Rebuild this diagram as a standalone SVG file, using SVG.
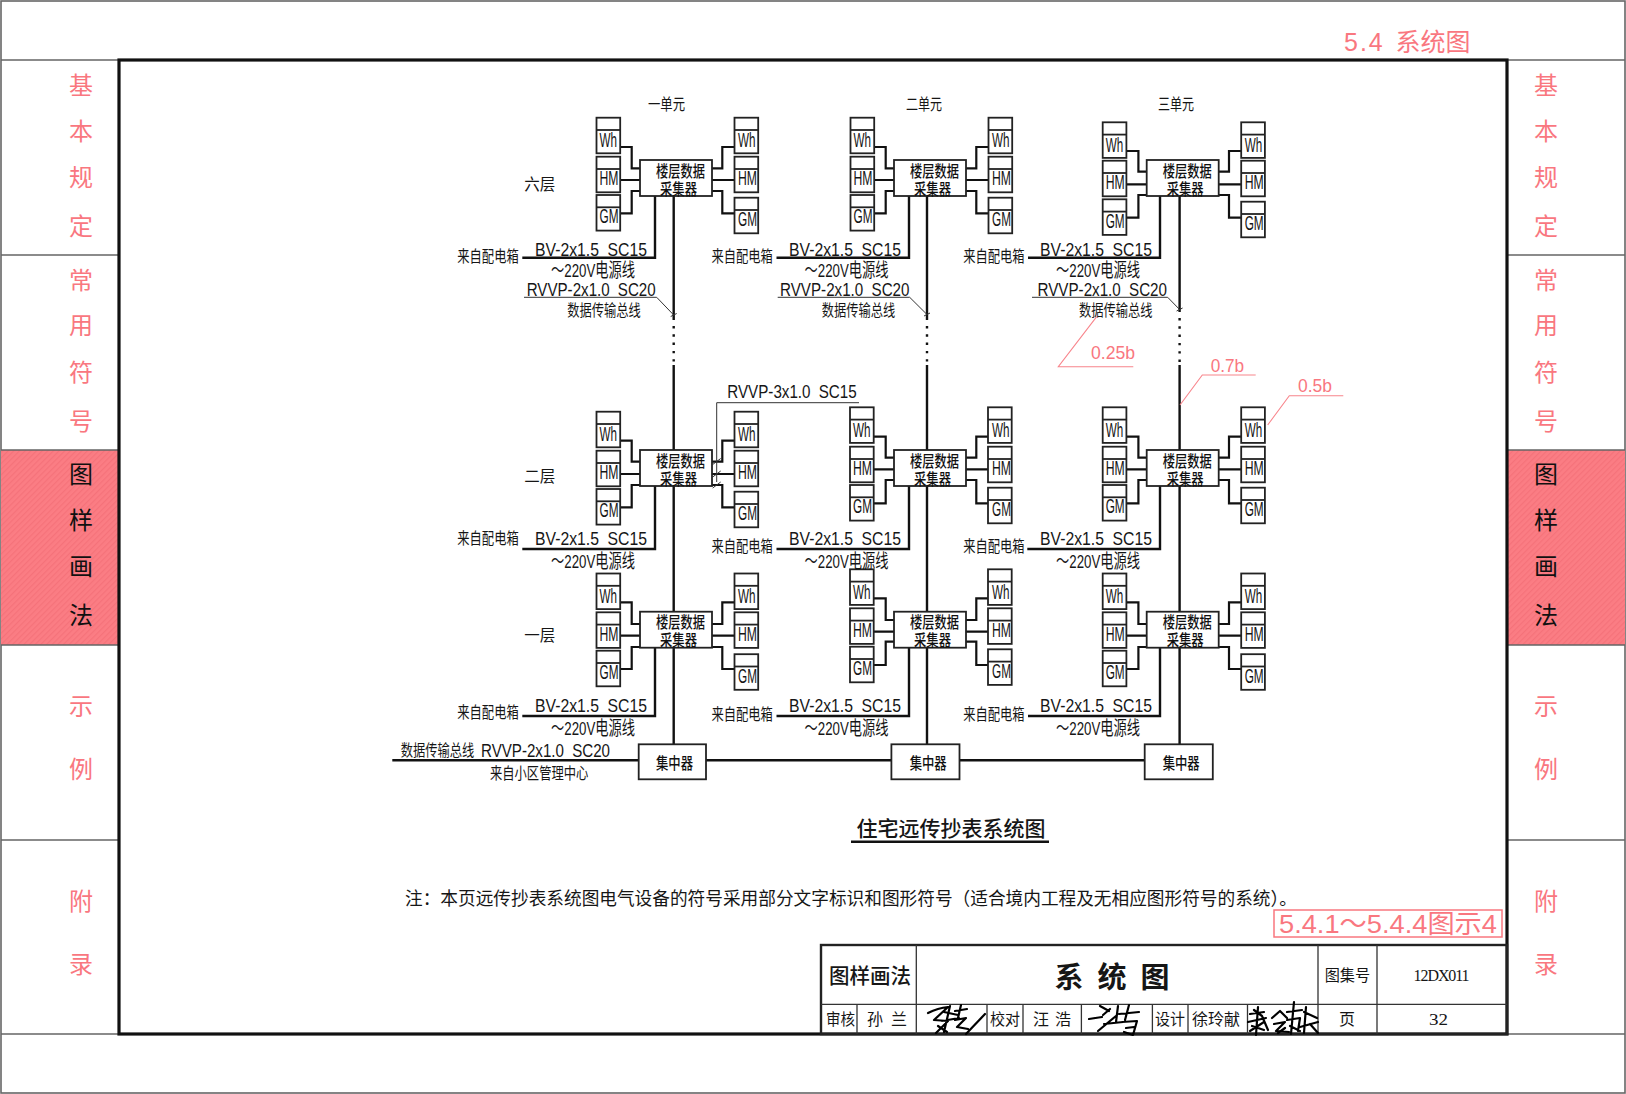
<svg xmlns="http://www.w3.org/2000/svg" width="1626" height="1094" viewBox="0 0 1626 1094">
<style>
.c{font-family:"Noto Sans CJK SC",sans-serif;fill:#161616}
.l{font-family:"Liberation Sans","Noto Sans CJK SC",sans-serif;fill:#161616}
.s16{font-size:16px}.s18{font-size:19px;word-spacing:5px}
.bt{font-family:"Noto Sans CJK SC",sans-serif;fill:#111;font-size:16px;font-weight:500}
.ml{font-family:"Liberation Sans",sans-serif;fill:#161616;font-size:20px;transform:translateY(-1px)}
.side{font-family:"Noto Sans CJK SC",sans-serif;font-size:24px;text-anchor:middle;fill:#f9777f}
.sideb{font-family:"Noto Sans CJK SC",sans-serif;font-size:24px;text-anchor:middle;fill:#111}
.w{fill:none;stroke:#111;stroke-width:2.2}
.v{fill:none;stroke:#111;stroke-width:2.4}
.t{fill:none;stroke:#333;stroke-width:1}
.pl{fill:none;stroke:#f8858c;stroke-width:1.1}
.g{fill:none;stroke:#666;stroke-width:1.6}
.bx{fill:#fff;stroke:#222;stroke-width:1.8}
.tb{fill:none;stroke:#333;stroke-width:1.3}
.sig{fill:none;stroke:#000;stroke-width:2.2;stroke-linejoin:round;stroke-linecap:round}
</style>
<defs>
<g id="mb"><rect class="bx" width="23.7" height="35.6"/><line x1="0" y1="12.3" x2="23.7" y2="12.3" stroke="#222" stroke-width="1.8"/></g>
<pattern id="hatch" width="4" height="4" patternUnits="userSpaceOnUse" patternTransform="rotate(-45)"><rect width="4" height="4" fill="#fb7d84"/><rect width="4" height="1.2" fill="#f5727a"/></pattern>
</defs>
<rect width="1626" height="1094" fill="#fff"/>

<g id="frame">
<rect x="1" y="1" width="1624" height="1092" class="g" stroke-width="2"/>
<rect x="1" y="450" width="118" height="195" fill="url(#hatch)"/>
<rect x="1507" y="450" width="118" height="195" fill="url(#hatch)"/>
<path class="g" d="M1 60H119M1 255H119M1 450H119M1 645H119M1 840H119M1 1034H1625M1507 60H1625M1507 255H1625M1507 450H1625M1507 645H1625M1507 840H1625"/>
<rect x="119" y="60" width="1388" height="974" fill="none" stroke="#111" stroke-width="3.2"/>
</g>

<g id="side-left">
<text class="side" x="81" y="94">基</text><text class="side" x="81" y="140">本</text><text class="side" x="81" y="186">规</text><text class="side" x="81" y="235">定</text>
<text class="side" x="81" y="289">常</text><text class="side" x="81" y="334">用</text><text class="side" x="81" y="381">符</text><text class="side" x="81" y="430">号</text>
<text class="sideb" x="81" y="483">图</text><text class="sideb" x="81" y="529">样</text><text class="sideb" x="81" y="575">画</text><text class="sideb" x="81" y="624">法</text>
<text class="side" x="81" y="715">示</text><text class="side" x="81" y="778">例</text>
<text class="side" x="81" y="910">附</text><text class="side" x="81" y="973">录</text>
</g>
<g id="side-right">
<text class="side" x="1546" y="94">基</text><text class="side" x="1546" y="140">本</text><text class="side" x="1546" y="186">规</text><text class="side" x="1546" y="235">定</text>
<text class="side" x="1546" y="289">常</text><text class="side" x="1546" y="334">用</text><text class="side" x="1546" y="381">符</text><text class="side" x="1546" y="430">号</text>
<text class="sideb" x="1546" y="483">图</text><text class="sideb" x="1546" y="529">样</text><text class="sideb" x="1546" y="575">画</text><text class="sideb" x="1546" y="624">法</text>
<text class="side" x="1546" y="715">示</text><text class="side" x="1546" y="778">例</text>
<text class="side" x="1546" y="910">附</text><text class="side" x="1546" y="973">录</text>
</g>
<text class="l" y="51" font-size="25" style="fill:#f9777f"><tspan x="1344" letter-spacing="2">5.4</tspan> <tspan x="1395.5">系统图</tspan></text>

<g id="connectors">
<g id="c-u1">
<path class="w" d="M620 147H631.7V168.3H640M620 180H640M620 213.3H631.7V191H640M712 168.3H722.3V147H734.5M712 180H734.5M712 191H722.3V213.3H734.5"/>
<path class="w" d="M620 440.7H631.7V461.7H640M620 474H640M620 507.3H631.7V485H640M712 461.7H722.3V440.7H734.5M712 474H734.5M712 485H722.3V507.3H734.5"/>
<path class="w" d="M620 602.3H631.7V624H640M620 635.7H640M620 669H631.7V647H640M712 624H722.3V602.3H734.5M712 635.7H734.5M712 647H722.3V669H734.5"/>
<path class="v" d="M655 196V257.7H522.3M655 486V549H522.3M655 647.7V716H522.3"/>
<path class="v" d="M673.7 196V320M673.7 365V450M673.7 486V611.7M673.7 647.7V744.3"/>
<path class="v" stroke-dasharray="2.4 5.9" d="M673.7 326V362"/>
<path class="t" d="M524 297.3H656.7L673.7 315M670.7 316.5l6-3"/>
</g>
<g id="c-u2">
<path class="w" d="M874 147H885.7V168.3H894M874 180H894M874 213.3H885.7V191H894M966 168.3H976.3V147H988.5M966 180H988.5M966 191H976.3V213.3H988.5"/>
<path class="w" d="M874 436.7H885.7V457.7H894M874 469.3H894M874 503.3H885.7V480H894M966 457.7H976.3V436.7H988.5M966 469.3H988.5M966 480H976.3V503.3H988.5"/>
<path class="w" d="M874 598.3H885.7V620H894M874 631.7H894M874 665H885.7V641.7H894M966 620H976.3V598.3H988.5M966 631.7H988.5M966 641.7H976.3V665H988.5"/>
<path class="v" d="M909 196V257.7H776.5M909 486V549H776.5M909 647.7V716H776.5"/>
<path class="v" d="M927 196V320M927 365V450M927 486V611.7M927 647.7V744"/>
<path class="v" stroke-dasharray="2.4 5.9" d="M927 326V362"/>
<path class="t" d="M777.7 297.3H909.7L927 314.5M924 316l6-3"/>
</g>
<g id="c-u3">
<path class="w" d="M1126.7 151H1138.4V171.7H1146.7M1126.7 184.3H1146.7M1126.7 217.7H1138.4V195H1146.7M1218.7 171.7H1229V151H1241.2M1218.7 184.3H1241.2M1218.7 195H1229V217.7H1241.2"/>
<path class="w" d="M1126.7 436.7H1138.4V457.7H1146.7M1126.7 469.3H1146.7M1126.7 503.3H1138.4V480H1146.7M1218.7 457.7H1229V436.7H1241.2M1218.7 469.3H1241.2M1218.7 480H1229V503.3H1241.2"/>
<path class="w" d="M1126.7 602.3H1138.4V624H1146.7M1126.7 635.7H1146.7M1126.7 669H1138.4V647H1146.7M1218.7 624H1229V602.3H1241.2M1218.7 635.7H1241.2M1218.7 647H1229V669H1241.2"/>
<path class="v" d="M1160 196V257.7H1028M1160 486V549H1027.3M1160 647.7V716H1028"/>
<path class="v" d="M1179.6 196V312M1179.6 365V450M1179.6 486V611.7M1179.6 647.7V744"/>
<path class="v" stroke-dasharray="2.4 5.9" d="M1179.6 318V362"/>
<path class="t" d="M1032 297.3H1167.7L1179.6 309.5M1176.6 311l6-3"/>
</g>
<g id="c-bus">
<path class="v" stroke-width="2.2" d="M392.3 760.3H638.7M706 760.3H891.4M959.5 760.3H1144.7"/>
</g>
<g id="c-leader">
<path class="t" stroke="#555" d="M859 402.7H716.7V482"/>
<path class="t" stroke-width="1.2" d="M712.7 464.5l8-6M712.7 477l8-6M712.7 488l8-6"/>
</g>
</g>

<g id="u1f6">
<use href="#mb" x="596.5" y="117.7"/><text class="ml" x="599.5" y="148" textLength="17.5" lengthAdjust="spacingAndGlyphs">Wh</text>
<use href="#mb" x="596.5" y="156.7"/><text class="ml" x="599.5" y="186" textLength="19" lengthAdjust="spacingAndGlyphs">HM</text>
<use href="#mb" x="596.5" y="195"/><text class="ml" x="599.5" y="224" textLength="19" lengthAdjust="spacingAndGlyphs">GM</text>
<use href="#mb" x="734.5" y="117.7"/><text class="ml" x="738" y="148" textLength="17.5" lengthAdjust="spacingAndGlyphs">Wh</text>
<use href="#mb" x="734.5" y="156.7"/><text class="ml" x="738" y="186" textLength="19" lengthAdjust="spacingAndGlyphs">HM</text>
<use href="#mb" x="734.5" y="197.7"/><text class="ml" x="738" y="227" textLength="19" lengthAdjust="spacingAndGlyphs">GM</text>
<rect class="bx" x="640" y="160" width="72" height="36"/><text class="bt" x="656" y="177" textLength="49" lengthAdjust="spacingAndGlyphs">楼层数据</text><text class="bt" x="660" y="194.5" textLength="37" lengthAdjust="spacingAndGlyphs">采集器</text>
</g>
<g id="u2f6" transform="translate(254 0)">
<use href="#mb" x="596.5" y="117.7"/><text class="ml" x="599.5" y="148" textLength="17.5" lengthAdjust="spacingAndGlyphs">Wh</text>
<use href="#mb" x="596.5" y="156.7"/><text class="ml" x="599.5" y="186" textLength="19" lengthAdjust="spacingAndGlyphs">HM</text>
<use href="#mb" x="596.5" y="195"/><text class="ml" x="599.5" y="224" textLength="19" lengthAdjust="spacingAndGlyphs">GM</text>
<use href="#mb" x="734.5" y="117.7"/><text class="ml" x="738" y="148" textLength="17.5" lengthAdjust="spacingAndGlyphs">Wh</text>
<use href="#mb" x="734.5" y="156.7"/><text class="ml" x="738" y="186" textLength="19" lengthAdjust="spacingAndGlyphs">HM</text>
<use href="#mb" x="734.5" y="197.7"/><text class="ml" x="738" y="227" textLength="19" lengthAdjust="spacingAndGlyphs">GM</text>
<rect class="bx" x="640" y="160" width="72" height="36"/><text class="bt" x="656" y="177" textLength="49" lengthAdjust="spacingAndGlyphs">楼层数据</text><text class="bt" x="660" y="194.5" textLength="37" lengthAdjust="spacingAndGlyphs">采集器</text>
</g>
<g id="u3f6" transform="translate(506.7 0)">
<use href="#mb" x="596" y="122.3"/><text class="ml" x="599" y="152.5" textLength="17.5" lengthAdjust="spacingAndGlyphs">Wh</text>
<use href="#mb" x="596" y="160.7"/><text class="ml" x="599" y="190" textLength="19" lengthAdjust="spacingAndGlyphs">HM</text>
<use href="#mb" x="596" y="199.3"/><text class="ml" x="599" y="228.5" textLength="19" lengthAdjust="spacingAndGlyphs">GM</text>
<use href="#mb" x="734.5" y="122.3"/><text class="ml" x="738" y="152.5" textLength="17.5" lengthAdjust="spacingAndGlyphs">Wh</text>
<use href="#mb" x="734.5" y="160.7"/><text class="ml" x="738" y="190" textLength="19" lengthAdjust="spacingAndGlyphs">HM</text>
<use href="#mb" x="734.5" y="201.7"/><text class="ml" x="738" y="231" textLength="19" lengthAdjust="spacingAndGlyphs">GM</text>
<rect class="bx" x="640" y="160" width="72" height="36"/><text class="bt" x="656" y="177" textLength="49" lengthAdjust="spacingAndGlyphs">楼层数据</text><text class="bt" x="660" y="194.5" textLength="37" lengthAdjust="spacingAndGlyphs">采集器</text>
</g>

<g id="u1f2">
<use href="#mb" x="596.5" y="411.7"/><text class="ml" x="599.5" y="442" textLength="17.5" lengthAdjust="spacingAndGlyphs">Wh</text>
<use href="#mb" x="596.5" y="450.7"/><text class="ml" x="599.5" y="480" textLength="19" lengthAdjust="spacingAndGlyphs">HM</text>
<use href="#mb" x="596.5" y="489"/><text class="ml" x="599.5" y="518" textLength="19" lengthAdjust="spacingAndGlyphs">GM</text>
<use href="#mb" x="734.5" y="411.7"/><text class="ml" x="738" y="442" textLength="17.5" lengthAdjust="spacingAndGlyphs">Wh</text>
<use href="#mb" x="734.5" y="450.7"/><text class="ml" x="738" y="480" textLength="19" lengthAdjust="spacingAndGlyphs">HM</text>
<use href="#mb" x="734.5" y="491.7"/><text class="ml" x="738" y="521" textLength="19" lengthAdjust="spacingAndGlyphs">GM</text>
<rect class="bx" x="640" y="450" width="72" height="36"/><text class="bt" x="656" y="467" textLength="49" lengthAdjust="spacingAndGlyphs">楼层数据</text><text class="bt" x="660" y="484.5" textLength="37" lengthAdjust="spacingAndGlyphs">采集器</text>
</g>
<g id="u2f2" transform="translate(254 0)">
<use href="#mb" x="596" y="407.3"/><text class="ml" x="599" y="437.5" textLength="17.5" lengthAdjust="spacingAndGlyphs">Wh</text>
<use href="#mb" x="596" y="446.7"/><text class="ml" x="599" y="476" textLength="19" lengthAdjust="spacingAndGlyphs">HM</text>
<use href="#mb" x="596" y="485"/><text class="ml" x="599" y="514" textLength="19" lengthAdjust="spacingAndGlyphs">GM</text>
<use href="#mb" x="734" y="407.3"/><text class="ml" x="738" y="437.5" textLength="17.5" lengthAdjust="spacingAndGlyphs">Wh</text>
<use href="#mb" x="734" y="446.7"/><text class="ml" x="738" y="476" textLength="19" lengthAdjust="spacingAndGlyphs">HM</text>
<use href="#mb" x="734" y="487.7"/><text class="ml" x="738" y="517" textLength="19" lengthAdjust="spacingAndGlyphs">GM</text>
<rect class="bx" x="640" y="450" width="72" height="36"/><text class="bt" x="656" y="467" textLength="49" lengthAdjust="spacingAndGlyphs">楼层数据</text><text class="bt" x="660" y="484.5" textLength="37" lengthAdjust="spacingAndGlyphs">采集器</text>
</g>
<g id="u3f2" transform="translate(506.7 0)">
<use href="#mb" x="596" y="407.3"/><text class="ml" x="599" y="437.5" textLength="17.5" lengthAdjust="spacingAndGlyphs">Wh</text>
<use href="#mb" x="596" y="446.7"/><text class="ml" x="599" y="476" textLength="19" lengthAdjust="spacingAndGlyphs">HM</text>
<use href="#mb" x="596" y="485"/><text class="ml" x="599" y="514" textLength="19" lengthAdjust="spacingAndGlyphs">GM</text>
<use href="#mb" x="734.5" y="407.3"/><text class="ml" x="738" y="437.5" textLength="17.5" lengthAdjust="spacingAndGlyphs">Wh</text>
<use href="#mb" x="734.5" y="446.7"/><text class="ml" x="738" y="476" textLength="19" lengthAdjust="spacingAndGlyphs">HM</text>
<use href="#mb" x="734.5" y="487.7"/><text class="ml" x="738" y="517" textLength="19" lengthAdjust="spacingAndGlyphs">GM</text>
<rect class="bx" x="640" y="450" width="72" height="36"/><text class="bt" x="656" y="467" textLength="49" lengthAdjust="spacingAndGlyphs">楼层数据</text><text class="bt" x="660" y="484.5" textLength="37" lengthAdjust="spacingAndGlyphs">采集器</text>
</g>

<g id="u1f1">
<use href="#mb" x="596.5" y="573.5"/><text class="ml" x="599.5" y="604" textLength="17.5" lengthAdjust="spacingAndGlyphs">Wh</text>
<use href="#mb" x="596.5" y="612.3"/><text class="ml" x="599.5" y="642" textLength="19" lengthAdjust="spacingAndGlyphs">HM</text>
<use href="#mb" x="596.5" y="650.7"/><text class="ml" x="599.5" y="680" textLength="19" lengthAdjust="spacingAndGlyphs">GM</text>
<use href="#mb" x="734.5" y="573.5"/><text class="ml" x="738" y="604" textLength="17.5" lengthAdjust="spacingAndGlyphs">Wh</text>
<use href="#mb" x="734.5" y="612.3"/><text class="ml" x="738" y="642" textLength="19" lengthAdjust="spacingAndGlyphs">HM</text>
<use href="#mb" x="734.5" y="654.2"/><text class="ml" x="738" y="683.5" textLength="19" lengthAdjust="spacingAndGlyphs">GM</text>
<rect class="bx" x="640" y="611.7" width="72" height="36"/><text class="bt" x="656" y="628" textLength="49" lengthAdjust="spacingAndGlyphs">楼层数据</text><text class="bt" x="660" y="646" textLength="37" lengthAdjust="spacingAndGlyphs">采集器</text>
</g>
<g id="u2f1" transform="translate(254 0)">
<use href="#mb" x="596" y="569.3"/><text class="ml" x="599" y="599.5" textLength="17.5" lengthAdjust="spacingAndGlyphs">Wh</text>
<use href="#mb" x="596" y="608.3"/><text class="ml" x="599" y="638" textLength="19" lengthAdjust="spacingAndGlyphs">HM</text>
<use href="#mb" x="596" y="646.7"/><text class="ml" x="599" y="676" textLength="19" lengthAdjust="spacingAndGlyphs">GM</text>
<use href="#mb" x="734" y="569.3"/><text class="ml" x="738" y="599.5" textLength="17.5" lengthAdjust="spacingAndGlyphs">Wh</text>
<use href="#mb" x="734" y="608.3"/><text class="ml" x="738" y="638" textLength="19" lengthAdjust="spacingAndGlyphs">HM</text>
<use href="#mb" x="734" y="649.3"/><text class="ml" x="738" y="678.5" textLength="19" lengthAdjust="spacingAndGlyphs">GM</text>
<rect class="bx" x="640" y="611.7" width="72" height="36"/><text class="bt" x="656" y="628" textLength="49" lengthAdjust="spacingAndGlyphs">楼层数据</text><text class="bt" x="660" y="646" textLength="37" lengthAdjust="spacingAndGlyphs">采集器</text>
</g>
<g id="u3f1" transform="translate(506.7 0)">
<use href="#mb" x="596" y="573.5"/><text class="ml" x="599" y="604" textLength="17.5" lengthAdjust="spacingAndGlyphs">Wh</text>
<use href="#mb" x="596" y="612.3"/><text class="ml" x="599" y="642" textLength="19" lengthAdjust="spacingAndGlyphs">HM</text>
<use href="#mb" x="596" y="650.7"/><text class="ml" x="599" y="680" textLength="19" lengthAdjust="spacingAndGlyphs">GM</text>
<use href="#mb" x="734.5" y="573.5"/><text class="ml" x="738" y="604" textLength="17.5" lengthAdjust="spacingAndGlyphs">Wh</text>
<use href="#mb" x="734.5" y="612.3"/><text class="ml" x="738" y="642" textLength="19" lengthAdjust="spacingAndGlyphs">HM</text>
<use href="#mb" x="734.5" y="654.2"/><text class="ml" x="738" y="683.5" textLength="19" lengthAdjust="spacingAndGlyphs">GM</text>
<rect class="bx" x="640" y="611.7" width="72" height="36"/><text class="bt" x="656" y="628" textLength="49" lengthAdjust="spacingAndGlyphs">楼层数据</text><text class="bt" x="660" y="646" textLength="37" lengthAdjust="spacingAndGlyphs">采集器</text>
</g>

<g id="conc1"><rect class="bx" x="638.7" y="744.3" width="67.3" height="35"/><text class="bt" x="656" y="768.5" textLength="37" lengthAdjust="spacingAndGlyphs">集中器</text></g>
<g id="conc2"><rect class="bx" x="891.4" y="744.3" width="68.1" height="35"/><text class="bt" x="909.7" y="768.5" textLength="37" lengthAdjust="spacingAndGlyphs">集中器</text></g>
<g id="conc3"><rect class="bx" x="1144.7" y="744.3" width="68.1" height="35"/><text class="bt" x="1162.7" y="768.5" textLength="37" lengthAdjust="spacingAndGlyphs">集中器</text></g>

<g id="labels">
<text class="c s16" x="648" y="109.5" textLength="37" lengthAdjust="spacingAndGlyphs">一单元</text>
<text class="c s16" x="906" y="109.5" textLength="36" lengthAdjust="spacingAndGlyphs">二单元</text>
<text class="c s16" x="1158" y="109.5" textLength="36" lengthAdjust="spacingAndGlyphs">三单元</text>
<text class="c s16" x="524.3" y="190" textLength="31" lengthAdjust="spacingAndGlyphs">六层</text>
<text class="c s16" x="524.3" y="481.7" textLength="31" lengthAdjust="spacingAndGlyphs">二层</text>
<text class="c s16" x="524.3" y="641" textLength="31" lengthAdjust="spacingAndGlyphs">一层</text>

<text class="c s16" x="457.3" y="262" textLength="61.4" lengthAdjust="spacingAndGlyphs">来自配电箱</text>
<text class="c s16" x="711.5" y="262" textLength="61.4" lengthAdjust="spacingAndGlyphs">来自配电箱</text>
<text class="c s16" x="963.2" y="262" textLength="61.4" lengthAdjust="spacingAndGlyphs">来自配电箱</text>
<text class="c s16" x="457.3" y="544" textLength="61.4" lengthAdjust="spacingAndGlyphs">来自配电箱</text>
<text class="c s16" x="711.5" y="552" textLength="61.4" lengthAdjust="spacingAndGlyphs">来自配电箱</text>
<text class="c s16" x="963.2" y="552" textLength="61.4" lengthAdjust="spacingAndGlyphs">来自配电箱</text>
<text class="c s16" x="457.3" y="718" textLength="61.4" lengthAdjust="spacingAndGlyphs">来自配电箱</text>
<text class="c s16" x="711.5" y="719.5" textLength="61.4" lengthAdjust="spacingAndGlyphs">来自配电箱</text>
<text class="c s16" x="963.2" y="719.5" textLength="61.4" lengthAdjust="spacingAndGlyphs">来自配电箱</text>

<text class="l s18" x="535" y="256" textLength="112" lengthAdjust="spacingAndGlyphs">BV-2x1.5 SC15</text>
<text class="l s18" x="789" y="256" textLength="112" lengthAdjust="spacingAndGlyphs">BV-2x1.5 SC15</text>
<text class="l s18" x="1040" y="256" textLength="112" lengthAdjust="spacingAndGlyphs">BV-2x1.5 SC15</text>
<text class="l s18" x="535" y="545" textLength="112" lengthAdjust="spacingAndGlyphs">BV-2x1.5 SC15</text>
<text class="l s18" x="789" y="545" textLength="112" lengthAdjust="spacingAndGlyphs">BV-2x1.5 SC15</text>
<text class="l s18" x="1040" y="545" textLength="112" lengthAdjust="spacingAndGlyphs">BV-2x1.5 SC15</text>
<text class="l s18" x="535" y="711.7" textLength="112" lengthAdjust="spacingAndGlyphs">BV-2x1.5 SC15</text>
<text class="l s18" x="789" y="711.7" textLength="112" lengthAdjust="spacingAndGlyphs">BV-2x1.5 SC15</text>
<text class="l s18" x="1040" y="711.7" textLength="112" lengthAdjust="spacingAndGlyphs">BV-2x1.5 SC15</text>

<text class="l s18" x="551" y="276.5" textLength="84" lengthAdjust="spacingAndGlyphs">～220V电源线</text>
<text class="l s18" x="804.5" y="276.5" textLength="84" lengthAdjust="spacingAndGlyphs">～220V电源线</text>
<text class="l s18" x="1056" y="276.5" textLength="84" lengthAdjust="spacingAndGlyphs">～220V电源线</text>
<text class="l s18" x="551" y="568" textLength="84" lengthAdjust="spacingAndGlyphs">～220V电源线</text>
<text class="l s18" x="804.5" y="568" textLength="84" lengthAdjust="spacingAndGlyphs">～220V电源线</text>
<text class="l s18" x="1056" y="568" textLength="84" lengthAdjust="spacingAndGlyphs">～220V电源线</text>
<text class="l s18" x="551" y="734.5" textLength="84" lengthAdjust="spacingAndGlyphs">～220V电源线</text>
<text class="l s18" x="804.5" y="734.5" textLength="84" lengthAdjust="spacingAndGlyphs">～220V电源线</text>
<text class="l s18" x="1056" y="734.5" textLength="84" lengthAdjust="spacingAndGlyphs">～220V电源线</text>

<text class="l s18" x="526.7" y="296" textLength="129" lengthAdjust="spacingAndGlyphs">RVVP-2x1.0 SC20</text>
<text class="l s18" x="780" y="296" textLength="129.5" lengthAdjust="spacingAndGlyphs">RVVP-2x1.0 SC20</text>
<text class="l s18" x="1037.5" y="296" textLength="129.5" lengthAdjust="spacingAndGlyphs">RVVP-2x1.0 SC20</text>
<text class="c s16" x="567.3" y="316" textLength="73.5" lengthAdjust="spacingAndGlyphs">数据传输总线</text>
<text class="c s16" x="821.7" y="316" textLength="73.5" lengthAdjust="spacingAndGlyphs">数据传输总线</text>
<text class="c s16" x="1079" y="316" textLength="73.5" lengthAdjust="spacingAndGlyphs">数据传输总线</text>

<text class="l s18" x="727.3" y="398" textLength="129.4" lengthAdjust="spacingAndGlyphs">RVVP-3x1.0 SC15</text>
<text class="c s16" x="400.7" y="756" textLength="73.5" lengthAdjust="spacingAndGlyphs">数据传输总线</text>
<text class="l s18" x="481" y="756.5" textLength="129" lengthAdjust="spacingAndGlyphs">RVVP-2x1.0 SC20</text>
<text class="c s16" x="490" y="779" textLength="98.3" lengthAdjust="spacingAndGlyphs">来自小区管理中心</text>

<text class="c" x="856.4" y="835.5" font-size="21" font-weight="500" textLength="189" lengthAdjust="spacingAndGlyphs">住宅远传抄表系统图</text>
<text class="c" x="405" y="905" font-size="18" textLength="892" lengthAdjust="spacingAndGlyphs">注：本页远传抄表系统图电气设备的符号采用部分文字标识和图形符号（适合境内工程及无相应图形符号的系统）。</text>
</g>
<line x1="851" y1="841.7" x2="1049" y2="841.7" stroke="#111" stroke-width="2.6"/>

<g id="annotations">
<path class="pl" d="M1096.7 316.7L1058.3 366.7H1133.3M1180 405L1202.3 375H1255.7M1267.7 425L1289.3 395.7H1343.3"/>
<text class="l" x="1091" y="359" font-size="19" textLength="44" lengthAdjust="spacingAndGlyphs" style="fill:#f9777f">0.25b</text>
<text class="l" x="1210.7" y="371.5" font-size="19" textLength="33.5" lengthAdjust="spacingAndGlyphs" style="fill:#f9777f">0.7b</text>
<text class="l" x="1298" y="392" font-size="19" textLength="34" lengthAdjust="spacingAndGlyphs" style="fill:#f9777f">0.5b</text>
<rect x="1274" y="910" width="228" height="27" fill="none" stroke="#f9777f" stroke-width="1.5"/>
<text class="l" x="1279" y="933" font-size="26" textLength="218" lengthAdjust="spacingAndGlyphs" style="fill:#f9777f">5.4.1～5.4.4图示4</text>
</g>

<g id="titleblock">
<rect x="821" y="945" width="686" height="89" fill="none" stroke="#222" stroke-width="2.4"/>
<path class="tb" d="M916.3 945V1034M1318 945V1034M1377 945V1034M821 1004.3H1507M857 1004.3V1034M987 1004.3V1034M1023 1004.3V1034M1081.4 1004.3V1034M1152.4 1004.3V1034M1188 1004.3V1034M1247.5 1004.3V1034"/>
<text class="c" x="829" y="983" font-size="21" font-weight="500" textLength="82" lengthAdjust="spacingAndGlyphs">图样画法</text>
<text class="c" x="1054.6" y="988" font-size="29" font-weight="700" textLength="115" lengthAdjust="spacing">系 统 图</text>
<text class="c s16" x="1324.7" y="981" textLength="45.5" lengthAdjust="spacingAndGlyphs">图集号</text>
<text x="1413.6" y="980.5" font-family="Liberation Serif,serif" font-size="16" fill="#161616" textLength="56" lengthAdjust="spacing">12DX011</text>
<text class="c s16" x="826" y="1025" textLength="29" lengthAdjust="spacingAndGlyphs">审核</text>
<text class="c s16" x="867" y="1025" textLength="40" lengthAdjust="spacing">孙 兰</text>
<text class="c s16" x="990" y="1025" textLength="30" lengthAdjust="spacingAndGlyphs">校对</text>
<text class="c s16" x="1033" y="1025" textLength="38" lengthAdjust="spacing">汪 浩</text>
<text class="c s16" x="1155" y="1025" textLength="30" lengthAdjust="spacingAndGlyphs">设计</text>
<text class="c s16" x="1192" y="1025" textLength="48" lengthAdjust="spacingAndGlyphs">徐玲献</text>
<text class="c s16" x="1339" y="1025" textLength="16" lengthAdjust="spacingAndGlyphs">页</text>
<text x="1429" y="1025" font-family="Liberation Serif,serif" font-size="16" fill="#161616" textLength="19" lengthAdjust="spacingAndGlyphs">32</text>
<path class="sig" d="M928 1013q10-5 20-6l-14 13 14 1-12 12M950 1006l-6 26M944 1012l14 3M942 1021l17-3M961 1005l-3 13M955 1011l12-2M955 1020l11-2-9 9 11 2M966 1034l19-20M938 1026l9 6"/>
<path class="sig" d="M1089 1019l13-2M1100 1006l9 5M1103 1015l7-6M1098 1031l18-15M1104 1024l19-2M1118 1006l-2 16M1129 1005l-4 15M1119 1014l20-2M1122 1022l15-1-4 14-9-3M1126 1028l8-1"/>
<path class="sig" stroke-width="2.6" d="M1248 1022l18-4M1258 1007l-2 28M1250 1014l14-2M1250 1031l14-9M1262 1016l6 14M1254 1010l8 6M1252 1026l12 4M1272 1018l8-7 7 7M1274 1024l11-2-9 9 13 1M1278 1033l7-5M1294 1002l-3 32M1287 1012l15-2M1287 1020l13-2-2 13M1290 1026l10 5M1304 1012l13 6M1306 1007l-2 26M1310 1024l8 9M1300 1027l18-5"/>
</g>
</svg>
